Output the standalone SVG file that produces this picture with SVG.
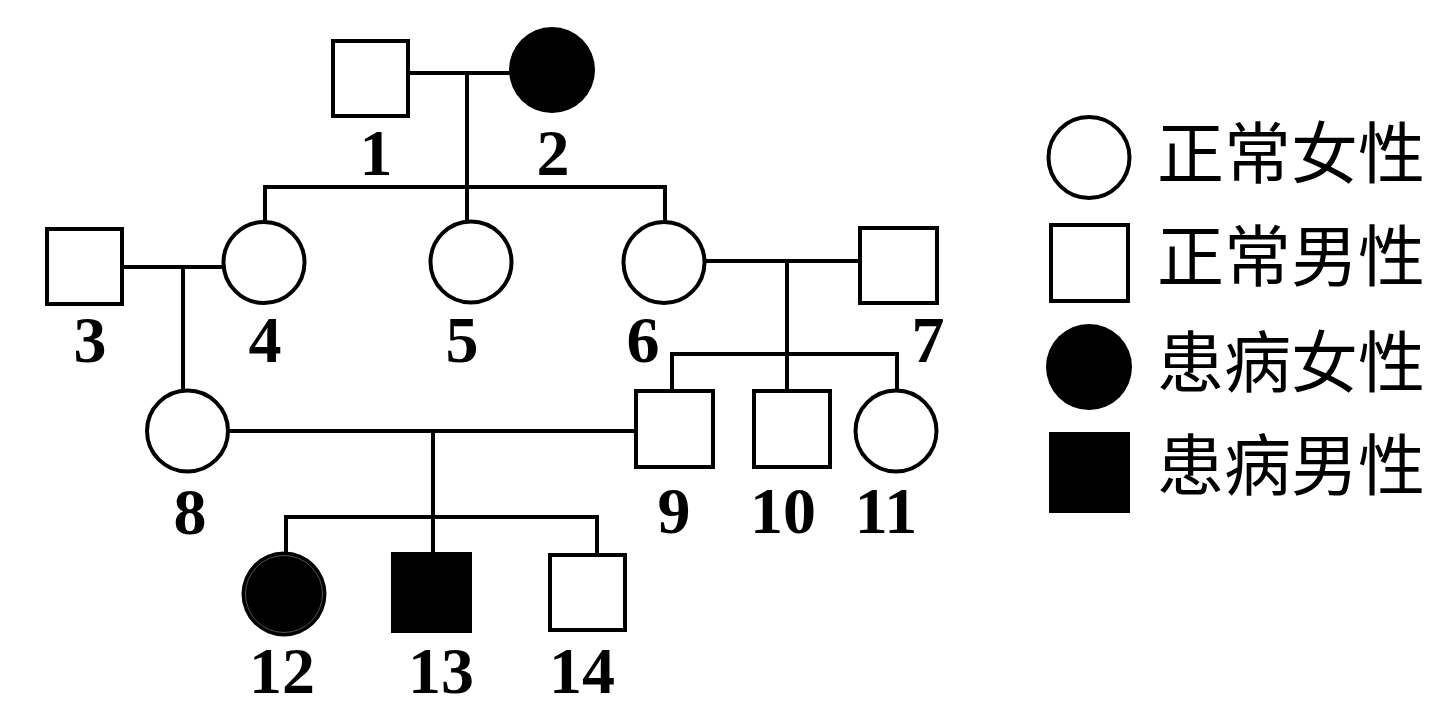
<svg xmlns="http://www.w3.org/2000/svg" width="1439" height="711" viewBox="0 0 1439 711">
<style>
.n{fill:#fff;stroke:#000;stroke-width:4}
.a{fill:#000;stroke:none}
.l{fill:none;stroke:#000;stroke-width:4;stroke-linecap:square}
.t{font-family:"Liberation Serif","Times New Roman",serif;font-size:66px;font-weight:bold;text-anchor:middle;fill:#000}
.c{font-family:"Noto Sans CJK SC",sans-serif;font-size:67px;fill:#000}
</style>
<rect width="1439" height="711" fill="#fff"/>
<g id="connectors">
<path class="l" d="M410 73H510M467 73V220M265 187H665M265 187V220M665 187V220"/>
<path class="l" d="M124 267H222M183 267V389"/>
<path class="l" d="M705 261H858M787 261V389M672 354H897M672 354V389M897 354V389"/>
<path class="l" d="M230 431H634M433 431V552M286 517H597M286 517V552M597 517V553"/>
</g>
<g id="n1"><rect class="n" x="333" y="41" width="75" height="75"/><text class="t" x="376" y="175">1</text></g>
<g id="n2"><circle class="a" cx="552" cy="70" r="43"/><text class="t" x="553" y="175">2</text></g>
<g id="n3"><rect class="n" x="47" y="229" width="75" height="75"/><text class="t" x="90" y="362">3</text></g>
<g id="n4"><circle class="n" cx="264" cy="262.5" r="40.5"/><text class="t" x="265" y="362">4</text></g>
<g id="n5"><circle class="n" cx="471" cy="262" r="40.5"/><text class="t" x="462" y="362">5</text></g>
<g id="n6"><circle class="n" cx="664" cy="262.5" r="40.5"/><text class="t" x="643" y="362">6</text></g>
<g id="n7"><rect class="n" x="860" y="228" width="77" height="75"/><text class="t" x="928" y="362">7</text></g>
<g id="n8"><circle class="n" cx="187.5" cy="431" r="40.5"/><text class="t" x="190" y="534">8</text></g>
<g id="n9"><rect class="n" x="636" y="391" width="77" height="76"/><text class="t" x="674" y="533">9</text></g>
<g id="n10"><rect class="n" x="754" y="391" width="76" height="76"/><text class="t" x="783" y="533">10</text></g>
<g id="n11"><circle class="n" cx="896" cy="431" r="40.5"/><text class="t" x="886" y="533">11</text></g>
<g id="n12"><circle class="a" cx="284" cy="594" r="42.5"/><circle cx="284" cy="594" r="38.5" fill="none" stroke="#666" stroke-width="0.8"/><text class="t" x="282" y="693">12</text></g>
<g id="n13"><rect class="a" x="391" y="552" width="81" height="81"/><text class="t" x="441" y="693">13</text></g>
<g id="n14"><rect class="n" x="550" y="555" width="75" height="75"/><text class="t" x="582" y="693">14</text></g>
<g id="legend">
<circle class="n" cx="1089" cy="157.5" r="40.5"/>
<rect class="n" x="1051" y="225" width="77" height="76"/>
<circle class="a" cx="1089" cy="367" r="43"/>
<rect class="a" x="1049" y="432" width="81" height="81"/>
<text class="c" x="1157" y="178">正常女性</text>
<text class="c" x="1157" y="281">正常男性</text>
<text class="c" x="1157" y="387">患病女性</text>
<text class="c" x="1157" y="490">患病男性</text>
</g>
</svg>
